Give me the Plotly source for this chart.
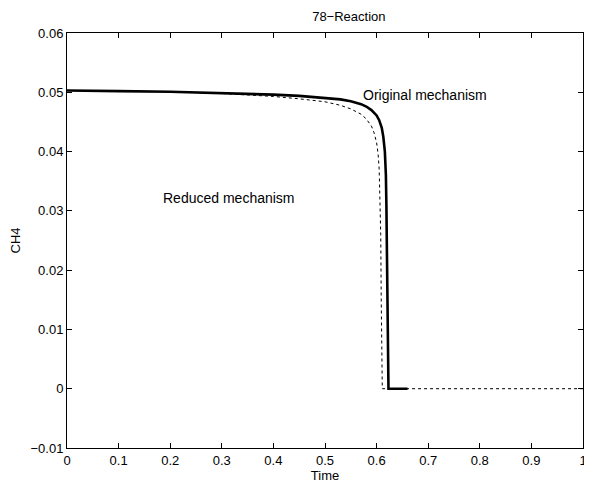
import plotly.graph_objects as go

# Original mechanism (solid)
t_orig = [0.0, 0.05, 0.1, 0.2, 0.3, 0.35, 0.4, 0.45, 0.5, 0.53, 0.55, 0.57, 0.58, 0.59, 0.60, 0.605,
          0.61, 0.613, 0.616, 0.618, 0.619, 0.620, 0.621, 0.622, 0.623, 0.63, 0.64, 0.66]
ch4_orig = [0.0503, 0.0503, 0.0502, 0.0501, 0.0499, 0.0498, 0.0496, 0.0494, 0.0491, 0.0488, 0.0485,
            0.0480, 0.0476, 0.0470, 0.0461, 0.0453, 0.0440, 0.0425, 0.0400, 0.0360, 0.0310,
            0.0220, 0.0110, 0.0030, 0.0, 0.0, 0.0, 0.0]

# Reduced mechanism (dotted)
t_red = [0.0, 0.1, 0.2, 0.3, 0.35, 0.4, 0.45, 0.5, 0.53, 0.55, 0.57, 0.58, 0.59, 0.595, 0.60,
         0.603, 0.605, 0.607, 0.608, 0.609, 0.610, 0.611, 0.62, 0.7, 0.8, 0.9, 1.0]
ch4_red = [0.0503, 0.0502, 0.0501, 0.0498, 0.0496, 0.0493, 0.0489, 0.0484, 0.0478, 0.0472, 0.0463,
           0.0455, 0.0443, 0.0432, 0.0415, 0.0395, 0.0370, 0.0320, 0.0260, 0.0150, 0.0040, 0.0,
           0.0, 0.0, 0.0, 0.0, 0.0]

x_ticks = [0, 0.1, 0.2, 0.3, 0.4, 0.5, 0.6, 0.7, 0.8, 0.9, 1]
x_tick_text = ["0", "0.1", "0.2", "0.3", "0.4", "0.5", "0.6", "0.7", "0.8", "0.9", "1"]
y_ticks = [-0.01, 0, 0.01, 0.02, 0.03, 0.04, 0.05, 0.06]
y_tick_text = ["\u22120.01", "0", "0.01", "0.02", "0.03", "0.04", "0.05", "0.06"]

FONT = "Liberation Sans, Arial, Helvetica, sans-serif"

fig = go.Figure()
fig.add_trace(go.Scatter(x=t_red, y=ch4_red, mode="lines",
                         line=dict(color="black", width=1, dash="dot"), name="Reduced"))
fig.add_trace(go.Scatter(x=t_orig, y=ch4_orig, mode="lines",
                         line=dict(color="black", width=2.6), name="Original"))

fig.add_annotation(x=0.817, y=0.0495, text="Original mechanism", showarrow=False,
                   xanchor="right", yanchor="middle", font=dict(size=14, color="black", family=FONT))
fig.add_annotation(x=0.183, y=0.0322, text="Reduced mechanism", showarrow=False,
                   xanchor="left", yanchor="middle", font=dict(size=14, color="black", family=FONT))

axis_common = dict(showline=True, linecolor="black", linewidth=1, mirror="ticks",
                   ticks="inside", ticklen=5, tickcolor="black", showgrid=False,
                   zeroline=False, tickfont=dict(size=13, color="black", family=FONT))

W, H = 584, 479
fig.update_layout(
    width=W, height=H,
    margin=dict(l=59, r=5, t=25, b=39),
    paper_bgcolor="white", plot_bgcolor="white",
    showlegend=False,
    font=dict(family=FONT, size=13, color="black"),
    title=dict(text="78\u2212Reaction", x=(59 + (W - 5)) / 2 / W, xref="paper", xanchor="center",
               y=1 - 8 / H, yanchor="middle", font=dict(size=13, color="black", family=FONT)),
    xaxis=dict(range=[0, 1], tickvals=x_ticks, ticktext=x_tick_text,
               title=dict(text="Time", standoff=2, font=dict(size=13, family=FONT)),
               **axis_common),
    yaxis=dict(range=[-0.01, 0.06], tickvals=y_ticks, ticktext=y_tick_text,
               title=dict(text="CH4", standoff=6, font=dict(size=13, family=FONT)),
               **axis_common),
)

fig.write_html("out.html")
